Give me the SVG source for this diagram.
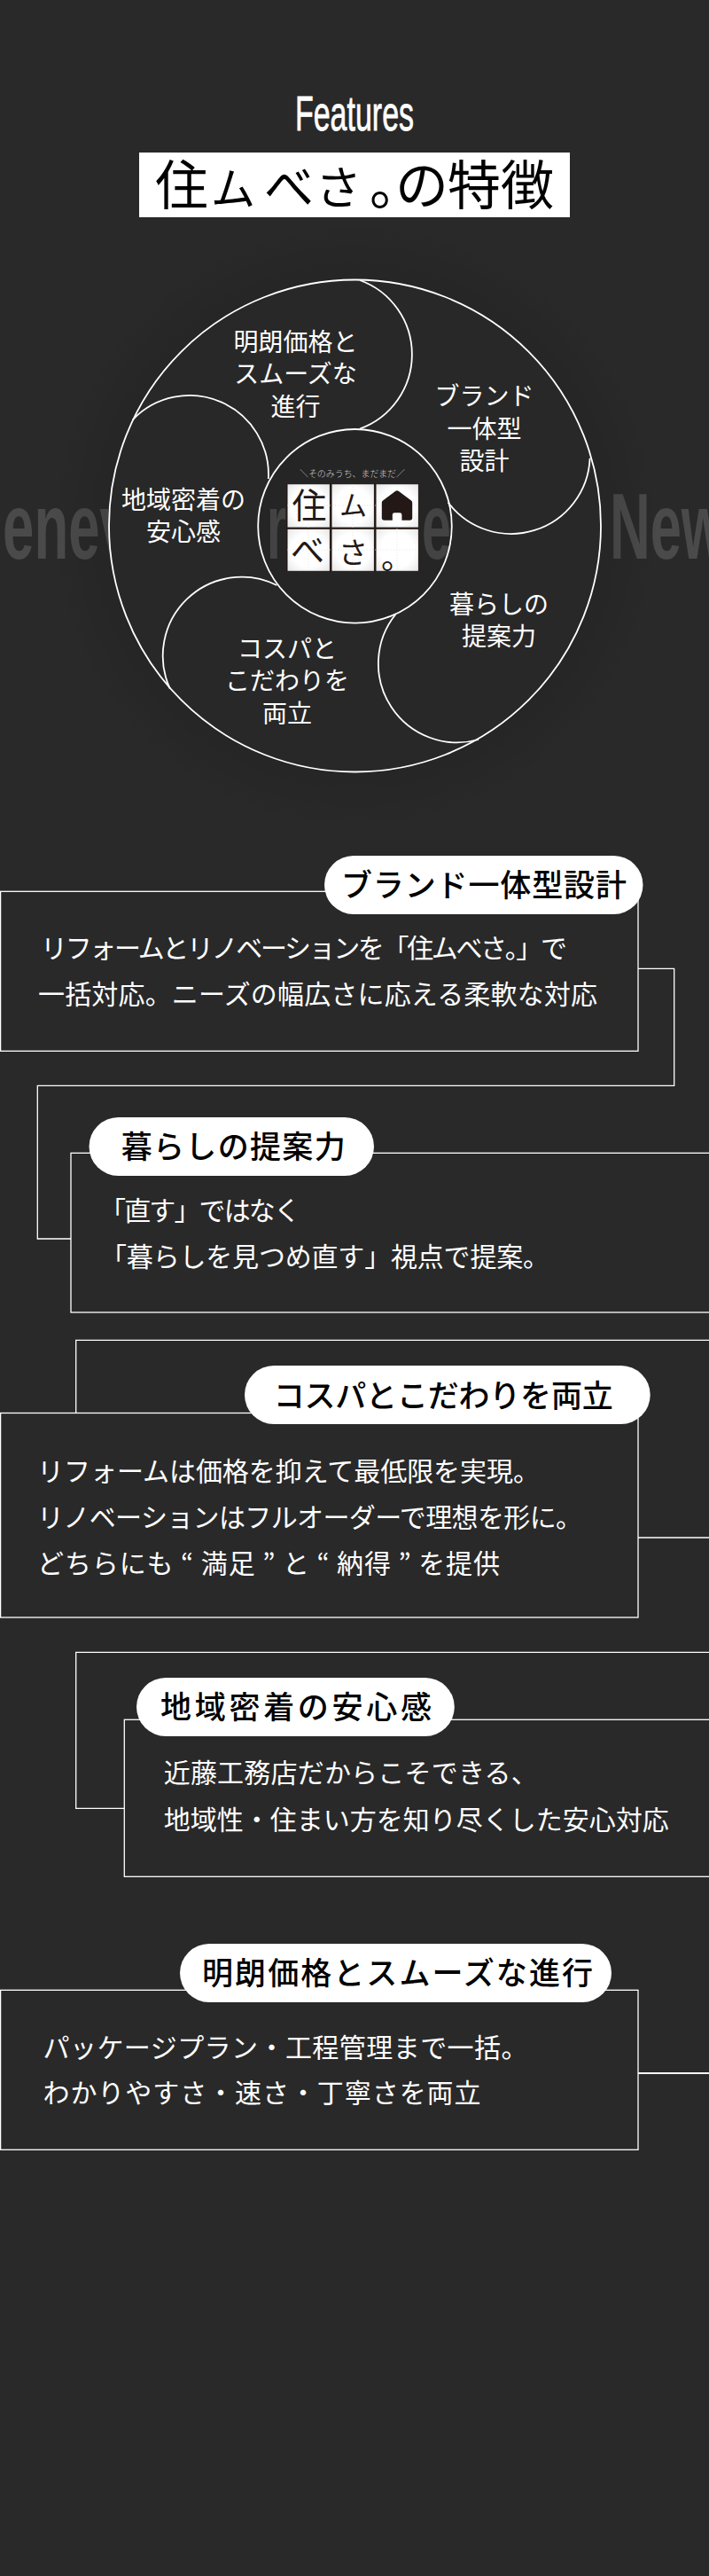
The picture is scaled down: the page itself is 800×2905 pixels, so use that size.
<svg xmlns="http://www.w3.org/2000/svg" width="800" height="2905" viewBox="0 0 800 2905">
<defs>
<radialGradient id="glow" cx="0.5" cy="0.5" r="0.5"><stop offset="0.78" stop-color="#000" stop-opacity="0.1"/><stop offset="1" stop-color="#000" stop-opacity="0"/></radialGradient>
<radialGradient id="cell" cx="0.5" cy="0.5" r="0.72"><stop offset="0.55" stop-color="#fff"/><stop offset="1" stop-color="#e4e4e4"/></radialGradient>
</defs>
<style>
text{font-family:"Noto Sans CJK JP","Noto Sans",sans-serif}
.bgt{font-family:"Liberation Sans",sans-serif;font-weight:700;font-size:105px;fill:#4a4a4a}
.arc{fill:none;stroke:#fff;stroke-width:1.8}
.ln{fill:none;stroke:#fff;stroke-width:1.3}
.card{fill:#292929;stroke:#fff;stroke-width:1.3}
.pill{fill:#fff}
.tt{font-size:35px;font-weight:500;fill:#000}
.bd{font-size:30px;font-weight:400;fill:#fff}
.ct{font-size:28px;font-weight:400;fill:#fff;text-anchor:middle}
.lc{fill:url(#cell);stroke:#231815;stroke-width:1}
.lg{fill:#231815;text-anchor:middle}
.gd{stroke:#ddd;stroke-width:.7;stroke-dasharray:1 2;fill:none}
</style>
<rect width="800" height="2905" fill="#292929"/>
<g id="heading">
<text x="333" y="147" font-size="56" textLength="134" lengthAdjust="spacingAndGlyphs" fill="#fff" stroke="#fff" stroke-width="0.8" style="font-family:'Liberation Sans',sans-serif">Features</text>
<rect x="157" y="172" width="486" height="73" fill="#fff"/>
<text y="231" font-size="60" fill="#000" font-weight="400" x="175 238 298 356 417 446 505 565">住<tspan font-size="50">ム</tspan><tspan font-size="56">べ</tspan><tspan font-size="52">さ</tspan>。の特徴</text>
</g>
<g id="bg-words">
<text class="bgt" x="3" y="630" textLength="145" lengthAdjust="spacingAndGlyphs">enev</text>
<text class="bgt" x="301" y="630" textLength="22" lengthAdjust="spacingAndGlyphs">r</text>
<text class="bgt" x="440" y="630" textLength="69" lengthAdjust="spacingAndGlyphs">ne</text>
<text class="bgt" x="688" y="630" textLength="130" lengthAdjust="spacingAndGlyphs">New</text>
</g>
<circle cx="400.5" cy="593" r="345" fill="url(#glow)"/>
<g id="wheel">
<path d="M400.5 315.5a277.5 277.5 0 1 1 0 555a277.5 277.5 0 1 1 0-555zM400.5 484a109.3 109.3 0 1 0 0 218.6a109.3 109.3 0 1 0 0-218.6z" fill="#282828" fill-rule="evenodd"/>
<circle class="arc" cx="400.5" cy="593" r="277.5"/>
<circle class="arc" cx="400.5" cy="593.3" r="109.3"/>
<path class="arc" d="M406 316A89 89 0 0 1 406 483.5"/>
<path class="arc" d="M505.7 566.7A89 89 0 0 0 665.6 516.7"/>
<path class="arc" d="M446.4 692.7A89 89 0 0 0 540 834"/>
<path class="arc" d="M312.4 660A89 89 0 0 0 191.8 776.7"/>
<path class="arc" d="M149.8 473.3A89 89 0 0 1 302.8 540"/>
</g>
<g id="logo">
<text x="397.5" y="537.5" font-size="10" font-weight="300" textLength="119" fill="#ccc" text-anchor="middle">＼そのみうち、まだまだ／</text>
<rect x="323.3" y="545" width="149.4" height="100" fill="#231815"/>
<rect class="lc" x="324" y="545.7" width="48.4" height="49.4"/>
<rect class="lc" x="374" y="545.7" width="48.4" height="49.4"/>
<rect class="lc" x="424" y="545.7" width="48.4" height="49.4"/>
<rect class="lc" x="324" y="596.3" width="48.4" height="48"/>
<rect class="lc" x="374" y="596.3" width="48.4" height="48"/>
<rect class="lc" x="424" y="596.3" width="48.4" height="48"/>
<path class="gd" d="M348 546v98M398 546v98M448 596v48M324 570h148M324 620h148"/>
<text class="lg" x="349" y="584" font-size="39">住</text>
<text class="lg" x="398.5" y="581" font-size="31">ム</text>
<text class="lg" x="347" y="634" font-size="38">べ</text>
<text class="lg" x="398.5" y="635" font-size="33">さ</text>
<text class="lg" x="448" y="642" font-size="36">。</text>
<path d="M448 553.2Q449 553.2 450 554L464 564.5Q465.2 565.4 465.2 567V584Q465.2 586.8 462.4 586.8H453.4V580.6Q453.4 578.3 451 578.3H445.2Q442.8 578.3 442.8 580.6V586.8H433.6Q430.8 586.8 430.8 584V567Q430.8 565.4 432 564.5L446 554Q447 553.2 448 553.2Z" fill="#231815"/>
</g>
<g id="wheel-labels">
<g id="label-price"><text class="ct" x="333.5" y="396">明朗価格と</text><text class="ct" x="333.5" y="432">スムーズな</text><text class="ct" x="333.5" y="468.5">進行</text></g>
<g id="label-brand"><text class="ct" x="546.5" y="457">ブランド</text><text class="ct" x="546.5" y="493.5">一体型</text><text class="ct" x="546.5" y="529.5">設計</text></g>
<g id="label-local"><text class="ct" x="207" y="573.5">地域密着の</text><text class="ct" x="207" y="610">安心感</text></g>
<g id="label-life"><text class="ct" x="563" y="691.5">暮らしの</text><text class="ct" x="563" y="727.5">提案力</text></g>
<g id="label-cost"><text class="ct" x="324" y="741.5">コスパと</text><text class="ct" x="324" y="778">こだわりを</text><text class="ct" x="324" y="814.5">両立</text></g>
</g>
<g id="connectors">
<path class="ln" d="M720 1092.3H760.7V1224.3H42.3V1397H80"/>
<path class="ln" d="M800 1511.3H85.7V1594"/>
<path class="ln" d="M720 1734H800"/>
<path class="ln" d="M800 1863.3H85.7V2039.3H140.3"/>
<path class="ln" style="stroke-width:2" d="M720 2338H800"/>
</g>
<g id="card-brand">
<rect class="card" x="0.6" y="1005.3" width="719.4" height="180"/>
<rect class="pill" x="366" y="965" width="359.5" height="66" rx="33"/>
<text class="tt" x="385" y="1010.5" textLength="322">ブランド一体型設計</text>
<text class="bd" x="46" y="1080" textLength="594">リフォームとリノベーションを「住ムべさ。」で</text>
<text class="bd" x="43" y="1132" textLength="631">一括対応。ニーズの幅広さに応える柔軟な対応</text>
</g>
<g id="card-life">
<rect class="card" x="80" y="1300.3" width="740" height="179.7"/>
<rect class="pill" x="100.5" y="1260" width="321.5" height="66" rx="33"/>
<text class="tt" x="136.7" y="1306" textLength="253">暮らしの提案力</text>
<text class="bd" x="112" y="1376" textLength="227">「直す」ではなく</text>
<text class="bd" x="113" y="1428" textLength="507">「暮らしを見つめ直す」視点で提案。</text>
</g>
<g id="card-cost">
<rect class="card" x="0.6" y="1593.5" width="719.4" height="230.5"/>
<rect class="pill" x="276" y="1540" width="457.7" height="66" rx="33"/>
<text class="tt" x="308.7" y="1587" textLength="383">コスパとこだわりを両立</text>
<text class="bd" x="42" y="1670" textLength="567">リフォームは価格を抑えて最低限を実現。</text>
<text class="bd" x="42" y="1722" textLength="615">リノベーションはフルオーダーで理想を形に。</text>
<text class="bd" x="42" y="1774" textLength="522">どちらにも “ 満足 ” と “ 納得 ” を提供</text>
</g>
<g id="card-local">
<rect class="card" x="140.3" y="1939.3" width="680" height="177"/>
<rect class="pill" x="154" y="1892" width="358.8" height="66" rx="33"/>
<text class="tt" x="181" y="1938" textLength="306">地域密着の安心感</text>
<text class="bd" x="184.7" y="2010" textLength="422">近藤工務店だからこそできる、</text>
<text class="bd" x="184.7" y="2063" textLength="570">地域性・住まい方を知り尽くした安心対応</text>
</g>
<g id="card-price">
<rect class="card" x="0.6" y="2244.3" width="719.4" height="180"/>
<rect class="pill" x="203" y="2192" width="487" height="66" rx="33"/>
<text class="tt" x="228" y="2238" textLength="441">明朗価格とスムーズな進行</text>
<text class="bd" x="48.5" y="2320" textLength="547">パッケージプラン・工程管理まで一括。</text>
<text class="bd" x="48.5" y="2371" textLength="494">わかりやすさ・速さ・丁寧さを両立</text>
</g>
</svg>
